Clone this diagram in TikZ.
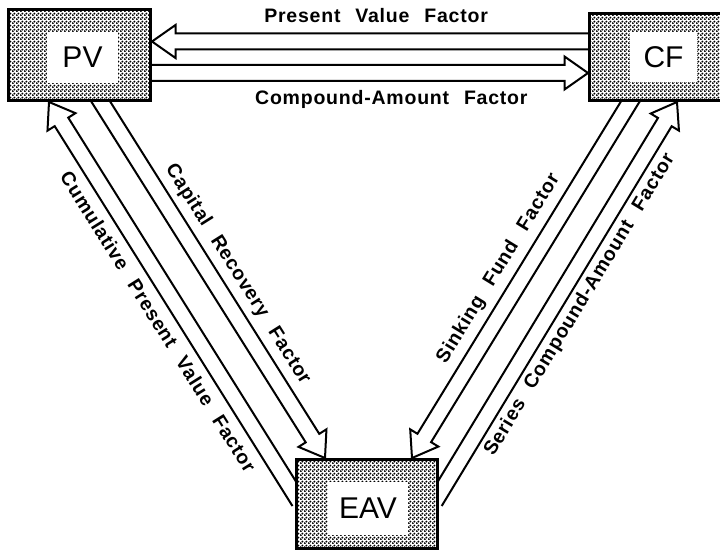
\documentclass[tikz,border=0pt]{standalone}
\usepackage{fontspec}
\newfontfamily\factorfont[WordSpace=2.4,LetterSpace=4]{Liberation Sans}
\newfontfamily\boxfont{Liberation Sans}
\usepackage{tikz}
\usetikzlibrary{calc, patterns, backgrounds}

\pgfdeclarepatternformonly{halftone}{\pgfpointorigin}{\pgfpoint{4pt}{4pt}}{\pgfpoint{4pt}{4pt}}{%
  \pgfpathcircle{\pgfpoint{1pt}{1pt}}{1.3pt}%
  \pgfpathcircle{\pgfpoint{3pt}{3pt}}{1.3pt}%
  \pgfusepath{fill}}

\tikzset{
  arrowline/.style={line width=2pt, line join=miter, miter limit=10},
  factorbox/.style={draw, line width=3pt, preaction={fill=white}, pattern=halftone, inner sep=0pt},
  boxname/.style={fill=white, inner sep=0pt, font=\boxfont\fontsize{30}{30}\selectfont},
  factorlabel/.style={inner sep=0pt, font=\factorfont\bfseries\fontsize{19.5}{19.5}\selectfont}
}

\newcommand{\factorarrow}[2]{%
  \coordinate (hb) at ($(#2)!23.5pt!(#1)$);
  \coordinate (tl) at ($(#1)!-8pt!(#2)$);
  \draw[arrowline] ($(tl)!8pt!90:(#2)$) -- ($(hb)!8pt!-90:(#1)$) -- ($(hb)!16.5pt!-90:(#1)$) -- (#2)
    -- ($(hb)!16.5pt!90:(#1)$) -- ($(hb)!8pt!90:(#1)$) -- ($(tl)!8pt!-90:(#2)$);}

\begin{document}
\begin{tikzpicture}[x=1pt, y=-1pt]
    \useasboundingbox (0,0) rectangle (720,556);

    \node[factorbox, minimum width=142pt, minimum height=91pt] (PV) at (79.5,55) {};
    \node[boxname, minimum width=71pt, minimum height=51pt] (PVname) at ($(PV)+(3,2.5)$) {PV};
    \node[factorbox, minimum width=140pt, minimum height=87pt] (CF) at (659.5,57) {};
    \node[boxname, minimum width=67pt, minimum height=50pt] (CFname) at ($(CF)+(4,0)$) {CF};
    \node[factorbox, minimum width=141pt, minimum height=89pt] (EAV) at (367,504) {};
    \node[boxname, minimum width=80pt, minimum height=53pt] (EAVname) at ($(EAV)+(1,4.5)$) {EAV};

    \coordinate (pvf-tail) at ($(CF.west)+(0,-15.5)$);
    \coordinate (pvf-tip) at ($(PV.east)+(0,-13.5)$);
    \coordinate (caf-tail) at ($(PV.east)+(0,18)$);
    \coordinate (caf-tip) at ($(CF.west)+(0,16)$);
    \coordinate (crf-tail) at ($(PV.south)+(21.5,0)$);
    \coordinate (crf-tip) at ($(EAV.north west)+(30,0)$);
    \coordinate (cpvf-tail) at ($(EAV.west)+(0,-9)$);
    \coordinate (cpvf-tip) at ($(PV.south west)+(42,0)$);
    \coordinate (sff-tail) at ($(CF.south)+(-29.5,0)$);
    \coordinate (sff-tip) at ($(EAV.north east)+(-27,0)$);
    \coordinate (scaf-tail) at ($(EAV.east)+(0,-9)$);
    \coordinate (scaf-tip) at ($(CF.south)+(17.5,0)$);

    \begin{scope}[on background layer]
        \fill[white] (0,0) rectangle (720,556);
        \factorarrow{pvf-tail}{pvf-tip}
        \factorarrow{caf-tail}{caf-tip}
        \factorarrow{crf-tail}{crf-tip}
        \factorarrow{cpvf-tail}{cpvf-tip}
        \factorarrow{sff-tail}{sff-tip}
        \factorarrow{scaf-tail}{scaf-tip}
    \end{scope}

    \path (pvf-tail) -- (pvf-tip) node[factorlabel, pos=.486, above=25.5pt, anchor=center] {Present Value Factor};
    \path (caf-tail) -- (caf-tip) node[factorlabel, pos=.549, below=26pt, anchor=center] {Compound-Amount Factor};
    \path (crf-tail) -- (crf-tip) node[factorlabel, pos=.52, sloped, above=24pt, anchor=center] {Capital Recovery Factor};
    \path (cpvf-tip) -- (cpvf-tail) node[factorlabel, pos=.527, sloped, below=24pt, anchor=center] {Cumulative Present Value Factor};
    \path (sff-tip) -- (sff-tail) node[factorlabel, pos=.495, sloped, above=25pt, anchor=center] {Sinking Fund Factor};
    \path (scaf-tail) -- (scaf-tip) node[factorlabel, pos=.513, sloped, below=22pt, anchor=center] {Series Compound-Amount Factor};
\end{tikzpicture}
\end{document}
